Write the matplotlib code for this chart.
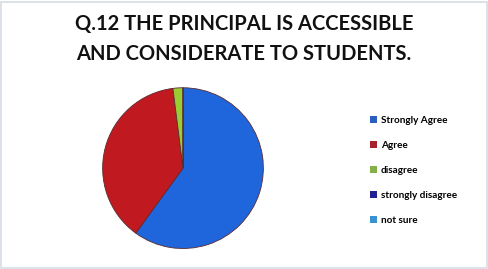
import matplotlib.pyplot as plt
from matplotlib.patches import Patch, Rectangle

# survey responses (percent)
labels = ['Strongly Agree', 'Agree', 'disagree', 'strongly disagree', 'not sure']
values = [60, 38, 2, 0, 0]
pie_colors = ['#1f66dc', '#c01a20', '#9ccc34', '#24208c', '#2f96d6']
legend_colors = ['#2a5fc0', '#a8202c', '#84b048', '#222090', '#3a92d0']

title = 'Q.12 THE PRINCIPAL IS ACCESSIBLE\nAND CONSIDERATE TO STUDENTS.'

fig = plt.figure(figsize=(4.88, 2.69), dpi=100)
fig.patch.set_facecolor('white')

# faint frame around the picture
fig.patches.append(Rectangle((0.003, 0.004), 0.994, 0.99, transform=fig.transFigure,
                             fill=False, edgecolor='#d6dde4', lw=1.2))

fig.text(0.5, 0.855, title, ha='center', va='center', fontsize=14.5,
         fontweight='bold', family='Lato', color='#111111', linespacing=1.62)

ax = fig.add_axes([0.375 - 0.168, 0.375 - 0.305, 0.336, 0.61])
ax.pie(values, colors=pie_colors, startangle=90, counterclock=False,
       wedgeprops=dict(edgecolor='#5a2a30', linewidth=0.6))
ax.set_xlim(-1.02, 1.02)
ax.set_ylim(-1.02, 1.02)
ax.set_aspect('equal')
ax.axis('off')

handles = [Patch(facecolor=c, edgecolor='none') for c in legend_colors]
fig.legend(handles, labels, loc='upper left', bbox_to_anchor=(0.74, 0.603),
           frameon=False, handlelength=0.7, handleheight=0.7,
           handletextpad=0.35, labelspacing=1.6,
           prop={'family': 'Lato', 'size': 7.2, 'weight': 'bold'})

plt.savefig('out.png', dpi=100)
